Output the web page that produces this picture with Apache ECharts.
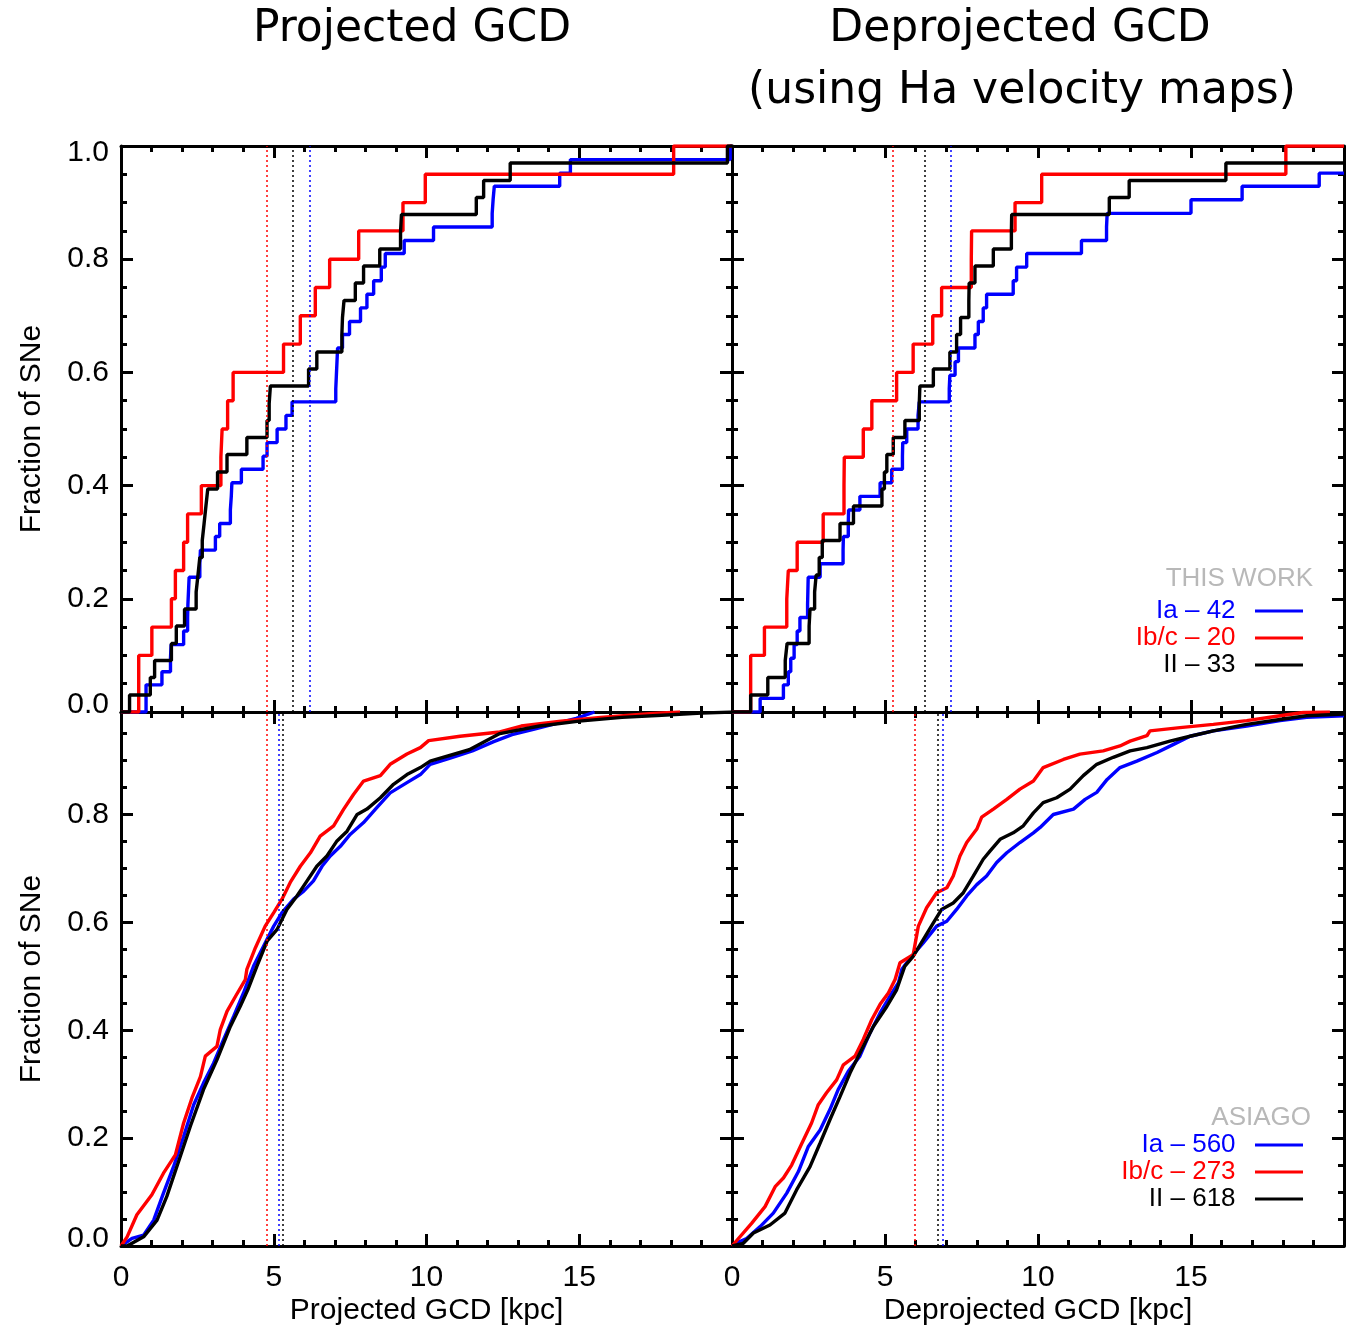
<!DOCTYPE html>
<html>
<head>
<meta charset="utf-8">
<title>GCD cumulative distributions</title>
<script src="https://cdn.jsdelivr.net/npm/echarts@6/dist/echarts.min.js"></script>
<style>
    html, body { margin: 0; padding: 0; background: #fff; }
    #main { width: 1353px; height: 1329px; }
</style>
</head>
<body>
<div id="main"></div>
<script>
    // ---- data: [GCD kpc, cumulative fraction] ----
    // top row: this work (projected / deprojected)
    var projIa = [[0,0],[0.82,0.048],[1.34,0.071],[1.62,0.095],[1.64,0.119],[2.05,0.143],[2.18,0.167],[2.19,0.190],[2.21,0.214],[2.23,0.238],[2.58,0.262],[2.60,0.286],[3.09,0.310],[3.23,0.333],[3.58,0.357],[3.61,0.381],[3.63,0.405],[3.94,0.429],[4.65,0.452],[4.78,0.476],[5.11,0.500],[5.40,0.524],[5.60,0.548],[7.03,0.571],[7.05,0.595],[7.07,0.619],[7.09,0.643],[7.25,0.667],[7.48,0.690],[7.84,0.714],[8.05,0.738],[8.27,0.762],[8.52,0.786],[8.65,0.810],[9.27,0.833],[10.23,0.857],[12.15,0.881],[12.18,0.905],[12.22,0.929],[14.36,0.952],[14.71,0.976],[19.94,1.0],[20,1.0]];
    var projIbc = [[0,0],[0.58,0.10],[1.01,0.15],[1.65,0.20],[1.78,0.25],[2.05,0.30],[2.18,0.35],[2.63,0.40],[3.27,0.45],[3.31,0.50],[3.49,0.55],[3.67,0.60],[5.32,0.65],[5.87,0.70],[6.36,0.75],[6.83,0.80],[7.78,0.85],[9.23,0.90],[9.96,0.95],[18.09,1.0],[20,1.0]];
    var projII = [[0,0],[0.28,0.030],[0.96,0.061],[1.10,0.091],[1.65,0.121],[1.81,0.152],[2.08,0.182],[2.46,0.212],[2.52,0.242],[2.58,0.273],[2.66,0.303],[2.72,0.333],[2.78,0.364],[2.84,0.394],[3.16,0.424],[3.47,0.455],[4.12,0.485],[4.78,0.515],[4.85,0.545],[4.89,0.576],[6.14,0.606],[6.41,0.636],[7.23,0.667],[7.25,0.697],[7.30,0.727],[7.67,0.758],[7.94,0.788],[8.47,0.818],[9.15,0.848],[9.18,0.879],[11.63,0.909],[11.87,0.939],[12.74,0.970],[19.85,1.0],[20,1.0]];

    var deprojIa = [[0,0],[0.92,0.024],[1.68,0.048],[1.84,0.071],[1.92,0.095],[2.03,0.119],[2.13,0.143],[2.22,0.167],[2.47,0.190],[2.48,0.214],[2.49,0.238],[2.88,0.262],[3.63,0.286],[3.64,0.310],[3.80,0.333],[3.81,0.357],[4.18,0.381],[4.84,0.405],[5.22,0.429],[5.57,0.452],[5.58,0.476],[5.71,0.500],[6.08,0.524],[6.12,0.548],[7.10,0.571],[7.12,0.595],[7.29,0.619],[7.40,0.643],[7.94,0.667],[8.05,0.690],[8.21,0.714],[8.32,0.738],[9.19,0.762],[9.30,0.786],[9.63,0.810],[11.42,0.833],[12.24,0.857],[12.26,0.881],[15.00,0.905],[16.67,0.929],[19.19,0.952],[20,0.952]];
    var deprojIbc = [[0,0],[0.61,0.10],[1.06,0.15],[1.79,0.20],[1.84,0.25],[2.13,0.30],[2.98,0.35],[3.66,0.40],[3.67,0.45],[4.29,0.50],[4.57,0.55],[5.38,0.60],[5.92,0.65],[6.56,0.70],[6.85,0.75],[7.82,0.80],[7.83,0.85],[9.25,0.90],[10.12,0.95],[18.10,1.0],[20,1.0]];
    var deprojII = [[0,0],[0.61,0.030],[1.17,0.061],[1.74,0.091],[1.80,0.121],[2.52,0.152],[2.55,0.182],[2.70,0.212],[2.75,0.242],[2.85,0.273],[2.95,0.303],[3.53,0.333],[3.97,0.364],[4.90,0.394],[4.98,0.424],[5.06,0.455],[5.27,0.485],[5.65,0.515],[6.12,0.545],[6.14,0.576],[6.58,0.606],[7.12,0.636],[7.34,0.667],[7.47,0.697],[7.74,0.727],[7.75,0.758],[7.94,0.788],[8.54,0.818],[9.13,0.848],[9.14,0.879],[12.33,0.909],[12.98,0.939],[16.14,0.970],[20,0.970]];

    // bottom row: ASIAGO
    var asProjIa = [[0,0],[0.36,0.014],[0.74,0.020],[1.07,0.048],[1.39,0.098],[1.72,0.147],[2.05,0.203],[2.38,0.262],[2.70,0.302],[3.03,0.339],[3.36,0.383],[3.69,0.426],[4.01,0.469],[4.34,0.519],[4.67,0.556],[5.00,0.593],[5.27,0.618],[5.65,0.643],[5.98,0.658],[6.30,0.677],[6.58,0.704],[6.85,0.723],[7.18,0.741],[7.50,0.763],[7.94,0.785],[8.38,0.813],[8.81,0.840],[9.36,0.859],[9.80,0.874],[10.12,0.893],[10.80,0.905],[11.50,0.918],[12.20,0.935],[12.80,0.948],[13.50,0.958],[14.20,0.968],[14.90,0.978],[15.50,0.990]];
    var asProjIbc = [[0,0],[0.20,0.017],[0.52,0.058],[1.01,0.095],[1.39,0.135],[1.78,0.169],[2.05,0.228],[2.32,0.274],[2.60,0.314],[2.76,0.352],[3.14,0.370],[3.25,0.401],[3.47,0.435],[3.75,0.463],[4.07,0.494],[4.12,0.513],[4.40,0.553],[4.72,0.593],[5.00,0.618],[5.27,0.643],[5.54,0.674],[5.87,0.704],[6.20,0.729],[6.52,0.760],[6.96,0.779],[7.29,0.810],[7.61,0.837],[7.94,0.862],[8.49,0.872],[8.81,0.893],[9.36,0.912],[9.80,0.924],[10.07,0.937],[11.10,0.945],[12.40,0.953],[13.10,0.964],[14.40,0.973],[15.70,0.980],[17.30,0.987],[18.30,0.990]];
    var asProjII = [[0,0],[0.20,0],[0.74,0.017],[1.18,0.048],[1.50,0.092],[1.94,0.166],[2.27,0.222],[2.70,0.290],[3.14,0.345],[3.58,0.407],[3.90,0.444],[4.15,0.475],[4.45,0.519],[4.78,0.565],[5.11,0.587],[5.43,0.624],[5.76,0.649],[6.09,0.677],[6.41,0.704],[6.74,0.723],[7.07,0.751],[7.40,0.769],[7.73,0.800],[8.05,0.810],[8.49,0.831],[8.92,0.856],[9.36,0.874],[9.80,0.887],[10.12,0.899],[11.40,0.920],[12.40,0.950],[13.70,0.964],[15.00,0.973],[16.40,0.980],[17.70,0.984],[19.00,0.988],[20,0.990]];

    var asDeprojIa = [[0,0],[0.20,0.007],[0.48,0.014],[0.92,0.036],[1.35,0.061],[1.79,0.098],[2.17,0.138],[2.49,0.184],[2.88,0.215],[3.20,0.253],[3.47,0.290],[3.80,0.324],[4.18,0.352],[4.51,0.395],[4.84,0.432],[5.16,0.463],[5.44,0.488],[5.55,0.513],[5.87,0.537],[6.25,0.562],[6.69,0.593],[7.02,0.602],[7.34,0.624],[7.67,0.649],[8.00,0.670],[8.32,0.686],[8.65,0.711],[8.98,0.729],[9.41,0.748],[9.85,0.766],[10.07,0.776],[10.50,0.800],[11.16,0.810],[11.54,0.828],[11.92,0.841],[12.26,0.865],[12.68,0.887],[13.23,0.899],[13.89,0.915],[14.43,0.930],[14.97,0.945],[15.73,0.955],[16.82,0.964],[17.91,0.974],[18.78,0.980],[20,0.983]];
    var asDeprojIbc = [[0,0],[0.64,0.042],[1.08,0.073],[1.41,0.110],[1.68,0.126],[1.95,0.150],[2.28,0.190],[2.60,0.228],[2.82,0.262],[3.09,0.284],[3.42,0.308],[3.64,0.336],[4.02,0.352],[4.29,0.383],[4.57,0.420],[4.84,0.448],[5.11,0.469],[5.33,0.494],[5.49,0.525],[5.92,0.540],[6.09,0.593],[6.36,0.627],[6.69,0.655],[7.02,0.664],[7.23,0.686],[7.45,0.723],[7.67,0.748],[8.00,0.773],[8.16,0.795],[8.54,0.810],[8.98,0.828],[9.41,0.847],[9.85,0.862],[10.17,0.887],[10.83,0.902],[11.37,0.912],[12.13,0.918],[12.68,0.927],[13.01,0.936],[13.56,0.946],[13.66,0.955],[14.64,0.961],[15.73,0.967],[16.82,0.974],[17.91,0.983],[18.67,0.989],[19.54,0.990]];
    var asDeprojII = [[0,0],[0.37,0.005],[0.70,0.024],[1.24,0.039],[1.73,0.061],[2.11,0.104],[2.55,0.147],[2.88,0.191],[3.20,0.234],[3.53,0.277],[3.86,0.321],[4.18,0.358],[4.62,0.407],[5.06,0.444],[5.38,0.475],[5.65,0.519],[5.92,0.537],[6.25,0.568],[6.58,0.599],[6.85,0.624],[7.23,0.636],[7.56,0.655],[7.89,0.686],[8.21,0.717],[8.43,0.732],[8.76,0.754],[9.19,0.766],[9.52,0.779],[9.85,0.803],[10.17,0.822],[10.61,0.831],[11.05,0.847],[11.48,0.872],[11.92,0.893],[12.46,0.906],[13.01,0.918],[13.56,0.924],[14.31,0.936],[14.97,0.945],[15.73,0.955],[16.82,0.967],[17.91,0.976],[18.78,0.983],[20,0.986]];

    // dotted vertical lines [Ia, Ib/c, II] per panel
    var markTL = [6.17, 4.78, 5.62];
    var markTR = [7.16, 5.25, 6.31];
    var markBL = [5.16, 4.78, 5.29];
    var markBR = [6.88, 5.98, 6.74];

    var namesTop = ['Ia – 42', 'Ib/c – 20', 'II – 33'];
    var namesBot = ['Ia – 560', 'Ib/c – 273', 'II – 618'];
    var colors = ['#0000ff', '#ff0000', '#000000'];

    var yTicksMajor = [0, 0.2, 0.4, 0.6, 0.8];
    var FONT = 'Liberation Sans';

    // panel rectangles (top-left, top-right, bottom-left, bottom-right)
    var grids = [
        {left: 121, top: 146, width: 611, height: 566},
        {left: 732, top: 146, width: 612, height: 566},
        {left: 121, top: 712, width: 611, height: 534},
        {left: 732, top: 712, width: 612, height: 534}
    ];

    var tickStyle = {color: '#000', width: 3};

    function xAx(g, pos, label, name) {
        return {
            type: 'value', gridIndex: g, position: pos, min: 0, max: 20, interval: 5,
            axisLine: {show: true, onZero: false, lineStyle: tickStyle},
            axisTick: {show: true, inside: true, length: 12, lineStyle: tickStyle},
            minorTick: {show: true, splitNumber: 5, length: 6, lineStyle: tickStyle},
            splitLine: {show: false},
            axisLabel: {
                show: label, margin: 17, fontSize: 30, color: '#000', fontFamily: FONT,
                showMaxLabel: false,
                formatter: function (v) { return v >= 20 ? '' : String(v); }
            },
            name: name || '', nameLocation: 'middle', nameGap: 50,
            nameTextStyle: {fontSize: 30, color: '#000', fontFamily: FONT}
        };
    }

    function yAx(g, pos, label, name, bottomRow) {
        var ax = {
            type: 'value', gridIndex: g, position: pos, min: 0, max: bottomRow ? 0.99 : 1, interval: 0.2,
            axisLine: {show: true, onZero: false, lineStyle: tickStyle},
            axisTick: {show: true, inside: true, length: 12, lineStyle: tickStyle},
            minorTick: {show: true, splitNumber: 4, length: 6, lineStyle: tickStyle},
            splitLine: {show: false},
            axisLabel: {
                show: label, margin: 12, fontSize: 30, lineHeight: 14, color: '#000', fontFamily: FONT,
                verticalAlignMinLabel: 'bottom', verticalAlignMaxLabel: 'top',
                formatter: function (v) { return (bottomRow && v > 0.95) ? '' : v.toFixed(1); }
            },
            name: name || '', nameLocation: 'middle', nameGap: 74,
            nameTextStyle: {fontSize: 30, color: '#000', fontFamily: FONT}
        };
        if (bottomRow) ax.axisTick.customValues = yTicksMajor;
        return ax;
    }

    var xAxes = [], yAxes = [];
    for (var g = 0; g < 4; g++) {
        var bottomRow = g >= 2;
        var leftCol = g % 2 === 0;
        var xName = bottomRow ? (leftCol ? 'Projected GCD [kpc]' : 'Deprojected GCD [kpc]') : '';
        xAxes.push(xAx(g, 'bottom', bottomRow, xName));
        xAxes.push(xAx(g, 'top', false));
        yAxes.push(yAx(g, 'left', leftCol, leftCol ? 'Fraction of SNe' : '', bottomRow));
        yAxes.push(yAx(g, 'right', false, '', bottomRow));
    }

    function cdf(name, data, color, g, mark) {
        return {
            name: name, type: 'line', xAxisIndex: 2 * g, yAxisIndex: 2 * g,
            data: data, step: g < 2 ? 'end' : false, symbol: 'none', showSymbol: false,
            lineStyle: {color: color, width: 3.4}, itemStyle: {color: color},
            clip: true,
            markLine: {
                silent: true, symbol: ['none', 'none'], label: {show: false},
                lineStyle: {type: [2, 3], width: 1.5, color: color, opacity: 1},
                emphasis: {disabled: true},
                data: [{xAxis: mark}]
            }
        };
    }

    var panels = [
        [projIa, projIbc, projII, markTL, namesTop],
        [deprojIa, deprojIbc, deprojII, markTR, namesTop],
        [asProjIa, asProjIbc, asProjII, markBL, namesBot],
        [asDeprojIa, asDeprojIbc, asDeprojII, markBR, namesBot]
    ];
    var series = [];
    panels.forEach(function (p, g) {
        for (var i = 0; i < 3; i++) {
            series.push(cdf(p[4][i], p[i], colors[i], g, p[3][i]));
        }
    });

    function legendFor(names, top) {
        return {
            orient: 'vertical', align: 'right', right: 50, top: top, padding: 0, itemGap: 1,
            icon: 'rect', itemWidth: 48, itemHeight: 3, selectedMode: false,
            data: names.map(function (n, i) { return {name: n, textStyle: {color: colors[i]}}; }),
            formatter: function (n) { return n + '  '; },
            textStyle: {fontSize: 26, fontFamily: FONT}
        };
    }

    function label(text, x, y, size, color, align, family) {
        return {
            text: text, left: x, top: y, padding: 0,
            textAlign: align, textVerticalAlign: 'middle',
            textStyle: {fontSize: size, color: color, fontWeight: 'normal', fontFamily: family || FONT}
        };
    }

    var option = {
        animation: false,
        backgroundColor: '#fff',
        textStyle: {fontFamily: FONT},
        title: [
            label('Projected GCD', 412, 30, 44, '#000', 'center', 'DejaVu Sans'),
            label('Deprojected GCD', 1020, 30, 44, '#000', 'center', 'DejaVu Sans'),
            label('(using Ha velocity maps)', 1022, 92, 44, '#000', 'center', 'DejaVu Sans'),
            label('THIS WORK', 1313, 579, 26, '#b8b8b8', 'right'),
            label('ASIAGO', 1311, 1118, 26, '#b8b8b8', 'right')
        ],
        legend: [legendFor(namesTop, 598), legendFor(namesBot, 1132)],
        grid: grids.map(function (r) {
            return {left: r.left, top: r.top, width: r.width, height: r.height, containLabel: false, outerBoundsMode: 'none'};
        }),
        xAxis: xAxes,
        yAxis: yAxes,
        series: series
    };

    var chart = echarts.init(document.getElementById('main'), null, {renderer: 'canvas'});
    chart.setOption(option);
</script>
</body>
</html>
